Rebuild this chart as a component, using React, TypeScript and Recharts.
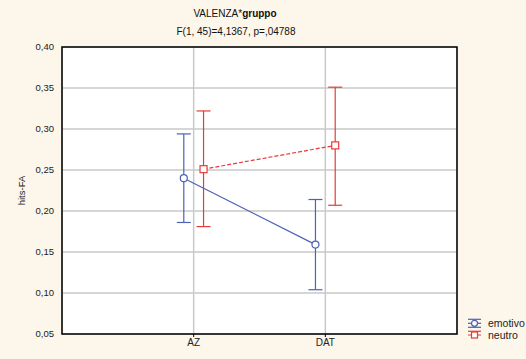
import React from 'react';
import {
  ComposedChart,
  Line,
  XAxis,
  YAxis,
  CartesianGrid,
  ErrorBar,
  ReferenceArea,
} from 'recharts';

// Groups on the horizontal axis
const categories = ['AZ', 'DAT'];

// Means and confidence interval bounds per group
const emotivoMean = [0.24, 0.159];
const emotivoLow = [0.186, 0.104];
const emotivoHigh = [0.294, 0.214];

const neutroMean = [0.251, 0.28];
const neutroLow = [0.181, 0.207];
const neutroHigh = [0.322, 0.351];

const yTicks = [0.05, 0.1, 0.15, 0.2, 0.25, 0.3, 0.35, 0.4];

const seriesNames = ['emotivo', 'neutro'];

const BLUE = '#4a63b4';
const RED = '#e83a3a';
const BG = '#fdf6ea';
const FONT = '"Liberation Sans", Arial, sans-serif';

// Small horizontal shift so the two series don't overlap at each category
const SHIFT = 0.075;

const buildRows = (mean: number[], low: number[], high: number[], shift: number) =>
  mean.map((m, i) => ({
    x: i + 1 + shift,
    y: m,
    err: [m - low[i], high[i] - m],
  }));

const emotivoRows = buildRows(emotivoMean, emotivoLow, emotivoHigh, -SHIFT);
const neutroRows = buildRows(neutroMean, neutroLow, neutroHigh, SHIFT);

const fmt = (v: number) => v.toFixed(2).replace('.', ',');

const SquareDot = (props: any) => {
  const { cx, cy } = props;
  if (cx == null || cy == null) return null;
  return (
    <rect
      key={`sq-${cx}-${cy}`}
      x={cx - 3.5}
      y={cy - 3.5}
      width={7}
      height={7}
      fill="#fff"
      stroke={RED}
      strokeWidth={1.2}
    />
  );
};

const LegendBox = () => (
  <svg
    width={70}
    height={30}
    style={{ position: 'absolute', left: 462, top: 315, overflow: 'visible' }}
  >
    {/* emotivo */}
    <line x1={6} x2={19} y1={4.3} y2={4.3} stroke={BLUE} strokeWidth={1.2} />
    <line x1={6} x2={19} y1={8.3} y2={8.3} stroke={BLUE} strokeWidth={1.2} />
    <line x1={6} x2={19} y1={12.3} y2={12.3} stroke={BLUE} strokeWidth={1.2} />
    <circle cx={12.5} cy={8.3} r={3} fill="#fff" stroke={BLUE} strokeWidth={1.2} />
    <text x={26} y={11.8} fontSize={10.5} fontFamily={FONT} fill="#222">
      {seriesNames[0]}
    </text>
    {/* neutro */}
    <line x1={6} x2={19} y1={16.3} y2={16.3} stroke={RED} strokeWidth={1.2} />
    <line x1={6} x2={19} y1={20} y2={20} stroke={RED} strokeWidth={1.2} strokeDasharray="3 2" />
    <rect x={9.5} y={17} width={6} height={6} fill="#fff" stroke={RED} strokeWidth={1.2} />
    <text x={26} y={23.8} fontSize={10.5} fontFamily={FONT} fill="#222">
      {seriesNames[1]}
    </text>
  </svg>
);

export default function App() {
  return (
    <div
      style={{
        position: 'absolute',
        left: 0,
        top: 0,
        width: 526,
        height: 359,
        background: BG,
        fontFamily: FONT,
        overflow: 'hidden',
      }}
    >
      <div
        style={{
          position: 'absolute',
          left: 0,
          top: 8,
          width: 470,
          textAlign: 'center',
          fontSize: 10,
          lineHeight: '12px',
          color: '#111',
        }}
      >
        VALENZA*<b>gruppo</b>
      </div>
      <div
        style={{
          position: 'absolute',
          left: 0,
          top: 26,
          width: 472,
          textAlign: 'center',
          fontSize: 10,
          lineHeight: '12px',
          color: '#111',
        }}
      >
        F(1, 45)=4,1367, p=,04788
      </div>
      <ComposedChart
        width={526}
        height={359}
        margin={{ top: 47, right: 69, bottom: 0, left: 0 }}
        style={{ position: 'absolute', left: 0, top: 0 }}
      >
        <CartesianGrid
          stroke="#c9c9c9"
          strokeWidth={1.5}
          fill="#fff"
          horizontal
          vertical
        />
        <XAxis
          type="number"
          dataKey="x"
          domain={[0, 3]}
          ticks={[1, 2]}
          allowDataOverflow
          tickFormatter={(v: number) => categories[v - 1]}
          axisLine={false}
          tickSize={3}
          tickLine={{ stroke: '#000' }}
          tick={{ fontSize: 10, fill: '#222', fontFamily: FONT }}
          height={25}
        />
        <YAxis
          type="number"
          domain={[0.05, 0.4]}
          ticks={yTicks}
          allowDataOverflow
          tickFormatter={fmt}
          axisLine={false}
          tickLine={false}
          tick={{ fontSize: 9.5, fill: '#222', fontFamily: FONT }}
          width={62}
          label={{
            value: 'hits-FA',
            angle: -90,
            position: 'insideLeft',
            offset: 22,
            style: { fontSize: 9.5, fill: '#222', fontFamily: FONT, textAnchor: 'middle' },
          }}
        />
        <ReferenceArea
          x1={0}
          x2={3}
          y1={0.05}
          y2={0.4}
          fill="none"
          stroke="#000"
          strokeWidth={1.5}
          fillOpacity={0}
          ifOverflow="visible"
        />
        <Line
          data={emotivoRows}
          dataKey="y"
          name={seriesNames[0]}
          stroke={BLUE}
          strokeWidth={1.2}
          isAnimationActive={false}
          dot={{ r: 3.5, fill: '#fff', stroke: BLUE, strokeWidth: 1.2 }}
          activeDot={false}
        >
          <ErrorBar dataKey="err" direction="y" width={7} stroke={BLUE} strokeWidth={1.2} />
        </Line>
        <Line
          data={neutroRows}
          dataKey="y"
          name={seriesNames[1]}
          stroke={RED}
          strokeWidth={1.2}
          strokeDasharray="4 2"
          isAnimationActive={false}
          dot={<SquareDot />}
          activeDot={false}
        >
          <ErrorBar dataKey="err" direction="y" width={7} stroke={RED} strokeWidth={1.2} />
        </Line>
      </ComposedChart>
      <LegendBox />
    </div>
  );
}
